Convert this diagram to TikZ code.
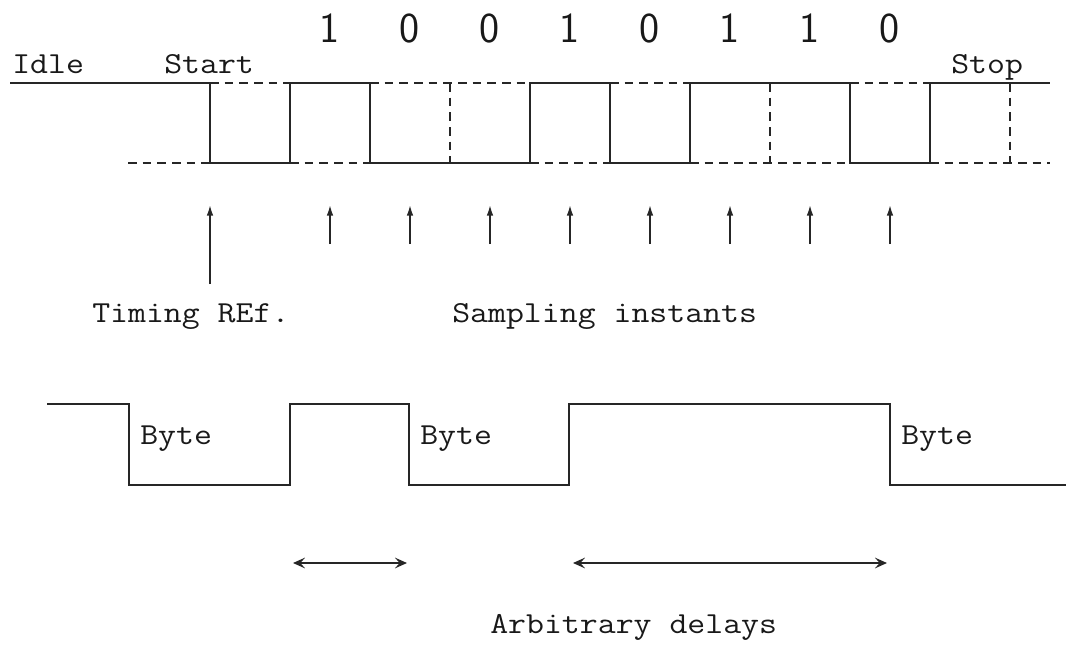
\documentclass[tikz,border=0pt]{standalone}
\usepackage{fontspec}
\newfontfamily\monofont{Latin Modern Mono}[FakeStretch=1.14]
\usetikzlibrary{arrows.meta}
\begin{document}
\begin{tikzpicture}[x=0.75pt,y=-0.75pt,
  wave/.style={line width=1.4pt, line join=miter, draw=black!85},
  guide/.style={line width=1.4pt, dash pattern=on 6.5pt off 4.5pt, draw=black!85},
  lbl/.style={font=\monofont\fontsize{22.9}{24}\selectfont, anchor=base west, inner sep=0pt, text=black!90},
  bit/.style={font=\sffamily\fontsize{32}{32}\selectfont, anchor=base, inner sep=0pt, text=black!90},
  sample/.style={line width=1.2pt, draw=black!85, -{Latex[length=8pt,width=5pt]}},
  delay/.style={line width=1.4pt, draw=black!85, {Stealth[length=9pt,width=8pt,inset=3.5pt]}-{Stealth[length=9pt,width=8pt,inset=3.5pt]}}]
\useasboundingbox (0,0) rectangle (1079,646);

% ---- serial frame: idle, start bit, data 10010110, stop bit ----
\draw[wave] (10,83) -- (210,83) -- (210,163) -- (290,163) -- (290,83) -- (370,83)
  -- (370,163) -- (530,163) -- (530,83) -- (610,83) -- (610,163) -- (690,163)
  -- (690,83) -- (850,83) -- (850,163) -- (930,163) -- (930,83) -- (1050,83);
% complementary levels
\draw[guide] (128,163) -- (210,163);
\draw[guide] (210,83) -- (290,83);
\draw[guide] (290,163) -- (370,163);
\draw[guide] (370,83) -- (530,83);
\draw[guide] (530,163) -- (610,163);
\draw[guide] (610,83) -- (690,83);
\draw[guide] (690,163) -- (850,163);
\draw[guide] (850,83) -- (930,83);
\draw[guide] (930,163) -- (1050,163);
% bit boundaries without a transition
\draw[guide] (450,83) -- (450,163);
\draw[guide] (770,83) -- (770,163);
\draw[guide] (1010,83) -- (1010,163);

\node[lbl] (idle) at (12,73) {Idle};
\node[lbl] (start) at (164,73) {Start};
\node[lbl] (stop) at (951,73) {Stop};

\foreach \x/\b [count=\i] in {330/1,410/0,490/0,570/1,650/0,730/1,810/1,890/0}
  \node[bit] (bit\i) at (\x,42) {\b};

% ---- timing reference and sampling instants ----
\coordinate (ref0) at (210,284);
\coordinate (ref1) at (210,205);
\draw[sample] (ref0) -- (ref1);
\foreach \x [count=\i] in {330,410,490,570,650,730,810,890}{
  \coordinate (s\i a) at (\x,244);
  \coordinate (s\i b) at (\x,205);
  \draw[sample] (s\i a) -- (s\i b);
}
\node[lbl] (timing) at (92,322) {Timing REf.};
\node[lbl] (sampling) at (452,322) {Sampling instants};

% ---- byte stream with arbitrary gaps ----
\draw[wave] (47,404) -- (129,404) -- (129,485) -- (290,485) -- (290,404)
  -- (409,404) -- (409,485) -- (569,485) -- (569,404) -- (890,404)
  -- (890,485) -- (1066,485);
\node[lbl] (byte1) at (140,444) {Byte};
\node[lbl] (byte2) at (420,444) {Byte};
\node[lbl] (byte3) at (901,444) {Byte};

\coordinate (d1a) at (293,563);
\coordinate (d1b) at (407,563);
\coordinate (d2a) at (573,563);
\coordinate (d2b) at (887,563);
\draw[delay] (d1a) -- (d1b);
\draw[delay] (d2a) -- (d2b);
\node[lbl] (delays) at (490,633) {Arbitrary delays};
\end{tikzpicture}
\end{document}
